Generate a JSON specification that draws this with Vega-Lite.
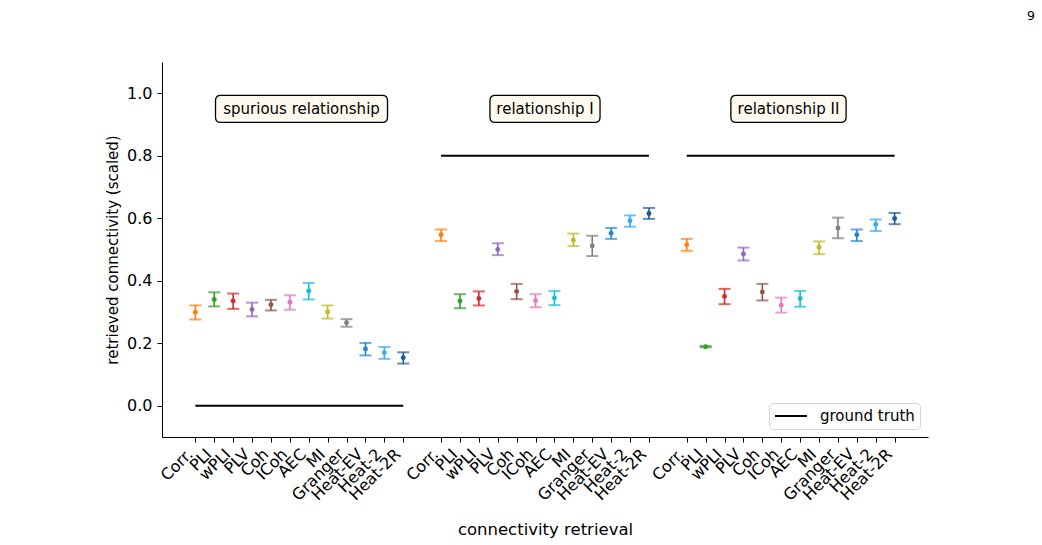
{
  "$schema": "https://vega.github.io/schema/vega-lite/v6.json",
  "width": 766,
  "height": 375,
  "autosize": "none",
  "padding": {"left": 162, "top": 62, "right": 114, "bottom": 108},
  "background": "white",
  "config": {
    "view": {"stroke": null},
    "font": "DejaVu Sans",
    "axis": {
      "domainColor": "black", "tickColor": "black", "labelColor": "black", "titleColor": "black",
      "grid": false, "tickSize": 5, "domainWidth": 1, "tickWidth": 1,
      "labelFontSize": 16, "titleFontSize": 16.5, "titleFontWeight": "normal",
      "labelFont": "DejaVu Sans", "titleFont": "DejaVu Sans"
    },
    "legend": {"labelFont": "DejaVu Sans"}
  },
  "title": {"text": "9", "anchor": "end", "frame": "group", "orient": "top", "fontSize": 12.5, "fontWeight": "normal", "font": "DejaVu Sans", "color": "black", "dx": 107, "offset": 40},
  "datasets": {
    "scores": [
      {"group": "spurious relationship", "key": "A|Corr.", "method": "Corr.", "mean": 0.299, "lo": 0.276, "hi": 0.321},
      {"group": "spurious relationship", "key": "A|PLI", "method": "PLI", "mean": 0.340, "lo": 0.318, "hi": 0.363},
      {"group": "spurious relationship", "key": "A|wPLI", "method": "wPLI", "mean": 0.335, "lo": 0.310, "hi": 0.359},
      {"group": "spurious relationship", "key": "A|PLV", "method": "PLV", "mean": 0.308, "lo": 0.286, "hi": 0.330},
      {"group": "spurious relationship", "key": "A|Coh", "method": "Coh", "mean": 0.323, "lo": 0.305, "hi": 0.339},
      {"group": "spurious relationship", "key": "A|ICoh", "method": "ICoh", "mean": 0.331, "lo": 0.307, "hi": 0.354},
      {"group": "spurious relationship", "key": "A|AEC", "method": "AEC", "mean": 0.367, "lo": 0.340, "hi": 0.393},
      {"group": "spurious relationship", "key": "A|MI", "method": "MI", "mean": 0.300, "lo": 0.279, "hi": 0.321},
      {"group": "spurious relationship", "key": "A|Granger", "method": "Granger", "mean": 0.266, "lo": 0.253, "hi": 0.277},
      {"group": "spurious relationship", "key": "A|Heat-EV", "method": "Heat-EV", "mean": 0.182, "lo": 0.161, "hi": 0.201},
      {"group": "spurious relationship", "key": "A|Heat-2", "method": "Heat-2", "mean": 0.170, "lo": 0.150, "hi": 0.188},
      {"group": "spurious relationship", "key": "A|Heat-2R", "method": "Heat-2R", "mean": 0.154, "lo": 0.135, "hi": 0.171},
      {"group": "relationship I", "key": "B|Corr.", "method": "Corr.", "mean": 0.547, "lo": 0.527, "hi": 0.564},
      {"group": "relationship I", "key": "B|PLI", "method": "PLI", "mean": 0.335, "lo": 0.312, "hi": 0.357},
      {"group": "relationship I", "key": "B|wPLI", "method": "wPLI", "mean": 0.343, "lo": 0.321, "hi": 0.366},
      {"group": "relationship I", "key": "B|PLV", "method": "PLV", "mean": 0.500, "lo": 0.482, "hi": 0.520},
      {"group": "relationship I", "key": "B|Coh", "method": "Coh", "mean": 0.366, "lo": 0.341, "hi": 0.390},
      {"group": "relationship I", "key": "B|ICoh", "method": "ICoh", "mean": 0.336, "lo": 0.315, "hi": 0.357},
      {"group": "relationship I", "key": "B|AEC", "method": "AEC", "mean": 0.345, "lo": 0.322, "hi": 0.367},
      {"group": "relationship I", "key": "B|MI", "method": "MI", "mean": 0.530, "lo": 0.511, "hi": 0.551},
      {"group": "relationship I", "key": "B|Granger", "method": "Granger", "mean": 0.511, "lo": 0.479, "hi": 0.544},
      {"group": "relationship I", "key": "B|Heat-EV", "method": "Heat-EV", "mean": 0.552, "lo": 0.534, "hi": 0.569},
      {"group": "relationship I", "key": "B|Heat-2", "method": "Heat-2", "mean": 0.592, "lo": 0.573, "hi": 0.609},
      {"group": "relationship I", "key": "B|Heat-2R", "method": "Heat-2R", "mean": 0.615, "lo": 0.598, "hi": 0.633},
      {"group": "relationship II", "key": "C|Corr.", "method": "Corr.", "mean": 0.515, "lo": 0.496, "hi": 0.534},
      {"group": "relationship II", "key": "C|PLI", "method": "PLI", "mean": 0.189, "lo": 0.187, "hi": 0.191},
      {"group": "relationship II", "key": "C|wPLI", "method": "wPLI", "mean": 0.350, "lo": 0.325, "hi": 0.374},
      {"group": "relationship II", "key": "C|PLV", "method": "PLV", "mean": 0.486, "lo": 0.465, "hi": 0.506},
      {"group": "relationship II", "key": "C|Coh", "method": "Coh", "mean": 0.364, "lo": 0.337, "hi": 0.390},
      {"group": "relationship II", "key": "C|ICoh", "method": "ICoh", "mean": 0.322, "lo": 0.298, "hi": 0.346},
      {"group": "relationship II", "key": "C|AEC", "method": "AEC", "mean": 0.343, "lo": 0.317, "hi": 0.367},
      {"group": "relationship II", "key": "C|MI", "method": "MI", "mean": 0.507, "lo": 0.485, "hi": 0.526},
      {"group": "relationship II", "key": "C|Granger", "method": "Granger", "mean": 0.569, "lo": 0.536, "hi": 0.602},
      {"group": "relationship II", "key": "C|Heat-EV", "method": "Heat-EV", "mean": 0.547, "lo": 0.527, "hi": 0.564},
      {"group": "relationship II", "key": "C|Heat-2", "method": "Heat-2", "mean": 0.580, "lo": 0.559, "hi": 0.596},
      {"group": "relationship II", "key": "C|Heat-2R", "method": "Heat-2R", "mean": 0.599, "lo": 0.581, "hi": 0.617}
    ],
    "truth": [
      {"group": "spurious relationship", "key": "A|Corr.", "truth": 0.0},
      {"group": "spurious relationship", "key": "A|Heat-2R", "truth": 0.0},
      {"group": "relationship I", "key": "B|Corr.", "truth": 0.8},
      {"group": "relationship I", "key": "B|Heat-2R", "truth": 0.8},
      {"group": "relationship II", "key": "C|Corr.", "truth": 0.8},
      {"group": "relationship II", "key": "C|Heat-2R", "truth": 0.8}
    ],
    "labels": [
      {"group": "spurious relationship"},
      {"group": "relationship I"},
      {"group": "relationship II"}
    ]
  },
  "layer": [
    {
      "encoding": {
        "x": {
          "field": "key", "type": "nominal",
          "scale": {"type": "point", "padding": 0.765, "domain": ["pre","A|Corr.","A|PLI","A|wPLI","A|PLV","A|Coh","A|ICoh","A|AEC","A|MI","A|Granger","A|Heat-EV","A|Heat-2","A|Heat-2R","gap1","B|Corr.","B|PLI","B|wPLI","B|PLV","B|Coh","B|ICoh","B|AEC","B|MI","B|Granger","B|Heat-EV","B|Heat-2","B|Heat-2R","gap2","C|Corr.","C|PLI","C|wPLI","C|PLV","C|Coh","C|ICoh","C|AEC","C|MI","C|Granger","C|Heat-EV","C|Heat-2","C|Heat-2R","post"]},
          "axis": {
            "title": "connectivity retrieval",
            "values": ["A|Corr.","A|PLI","A|wPLI","A|PLV","A|Coh","A|ICoh","A|AEC","A|MI","A|Granger","A|Heat-EV","A|Heat-2","A|Heat-2R","B|Corr.","B|PLI","B|wPLI","B|PLV","B|Coh","B|ICoh","B|AEC","B|MI","B|Granger","B|Heat-EV","B|Heat-2","B|Heat-2R","C|Corr.","C|PLI","C|wPLI","C|PLV","C|Coh","C|ICoh","C|AEC","C|MI","C|Granger","C|Heat-EV","C|Heat-2","C|Heat-2R"],
            "labelExpr": "split(datum.value, '|')[1]",
            "labelAngle": -45, "labelAlign": "right", "labelBaseline": "bottom", "labelPadding": 15,
            "labelOverlap": false, "labelBound": false, "titlePadding": 18
          }
        }
      },
      "layer": [
        {
          "data": {"name": "scores"},
          "encoding": {
            "color": {
              "field": "method", "type": "nominal", "legend": null,
              "scale": {
                "domain": ["Corr.","PLI","wPLI","PLV","Coh","ICoh","AEC","MI","Granger","Heat-EV","Heat-2","Heat-2R"],
                "range": ["#ff7f0e","#2ca02c","#d62728","#9467bd","#8c564b","#e377c2","#17becf","#bcbd22","#7f7f7f","#2185d0","#36aaf2","#1b5d93"]
              }
            }
          },
          "layer": [
            {
              "mark": {"type": "rule", "strokeWidth": 1.6},
              "encoding": {
                "y": {"field": "lo", "type": "quantitative", "scale": {"domain": [-0.1, 1.1], "nice": false, "zero": false},
                      "axis": {"title": "retrieved connectivity (scaled)", "titleFontSize": 15, "values": [0, 0.2, 0.4, 0.6, 0.8, 1.0], "format": ".1f", "titlePadding": 6, "labelPadding": 5}},
                "y2": {"field": "hi"}
              }
            },
            {
              "mark": {"type": "tick", "size": 12, "thickness": 2},
              "encoding": {"y": {"field": "lo", "type": "quantitative"}}
            },
            {
              "mark": {"type": "tick", "size": 12, "thickness": 2},
              "encoding": {"y": {"field": "hi", "type": "quantitative"}}
            },
            {
              "mark": {"type": "point", "filled": true, "size": 24, "opacity": 1},
              "encoding": {"y": {"field": "mean", "type": "quantitative"}}
            }
          ]
        },
        {
          "data": {"name": "truth"},
          "mark": {"type": "line", "strokeWidth": 2},
          "encoding": {
            "y": {"field": "truth", "type": "quantitative"},
            "detail": {"field": "group", "type": "nominal"},
            "stroke": {
              "datum": "ground truth",
              "scale": {"range": ["black"]},
              "legend": {
                "title": null, "orient": "bottom-right", "offset": 8,
                "fillColor": "white", "strokeColor": "#d6d6d6", "cornerRadius": 4, "padding": 5,
                "labelFontSize": 15, "labelColor": "black", "labelOffset": 12, "clipHeight": 16,
                "symbolType": "stroke", "symbolSize": 1024, "symbolStrokeWidth": 2, "symbolStrokeColor": "black"
              }
            }
          }
        }
      ]
    },
    {
      "data": {"name": "labels"},
      "encoding": {
        "x": {"field": "group", "type": "nominal", "axis": null,
              "scale": {"type": "point", "padding": 0.573, "domain": ["spurious relationship", "relationship I", "relationship II"]}},
        "y": {"datum": 0.95, "type": "quantitative"}
      },
      "layer": [
        {
          "mark": {"type": "point", "filled": true, "fill": "#fffaf0", "stroke": "black", "strokeWidth": 1.3, "size": 29584, "opacity": 1},
          "encoding": {
            "shape": {
              "field": "group", "type": "nominal", "legend": null,
              "scale": {
                "domain": ["spurious relationship", "relationship I", "relationship II"],
                "range": [
                  "M -0.94 -0.157 L 0.94 -0.157 Q 1 -0.157 1 -0.097 L 1 0.097 Q 1 0.157 0.94 0.157 L -0.94 0.157 Q -1 0.157 -1 0.097 L -1 -0.097 Q -1 -0.157 -0.94 -0.157 Z",
                  "M -0.58 -0.157 L 0.58 -0.157 Q 0.64 -0.157 0.64 -0.097 L 0.64 0.097 Q 0.64 0.157 0.58 0.157 L -0.58 0.157 Q -0.64 0.157 -0.64 0.097 L -0.64 -0.097 Q -0.64 -0.157 -0.58 -0.157 Z",
                  "M -0.61 -0.157 L 0.61 -0.157 Q 0.67 -0.157 0.67 -0.097 L 0.67 0.097 Q 0.67 0.157 0.61 0.157 L -0.61 0.157 Q -0.67 0.157 -0.67 0.097 L -0.67 -0.097 Q -0.67 -0.157 -0.61 -0.157 Z"
                ]
              }
            }
          }
        },
        {
          "mark": {"type": "text", "fontSize": 15, "font": "DejaVu Sans", "color": "black", "align": "center", "baseline": "middle"},
          "encoding": {"text": {"field": "group", "type": "nominal"}}
        }
      ]
    }
  ],
  "resolve": {"scale": {"x": "independent"}}
}
